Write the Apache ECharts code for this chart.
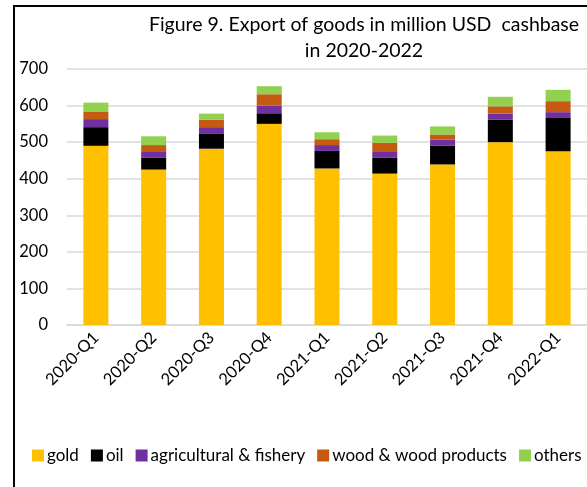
<!DOCTYPE html>
<html>
<head>
<meta charset="utf-8">
<script src="https://cdn.jsdelivr.net/npm/echarts@6/dist/echarts.min.js"></script>
<style>
  html, body { margin: 0; padding: 0; background: #fff; }
  #chart { width: 587px; height: 487px; }
</style>
</head>
<body>
<div id="chart"></div>
<script>
// Quarterly export of goods, million USD (cash basis)
const quarters = ['2020-Q1', '2020-Q2', '2020-Q3', '2020-Q4', '2021-Q1', '2021-Q2', '2021-Q3', '2021-Q4', '2022-Q1'];
const gold = [490, 425, 482, 550, 428, 414, 439, 500, 475];
const oil = [51, 32, 42, 29, 48, 43, 51, 62, 91];
const agricultural = [22, 16, 17, 21, 16, 16, 17, 16, 16];
const wood = [21, 19, 20, 31, 16, 25, 14, 20, 30];
const others = [24, 24, 17, 22, 19, 20, 22, 26, 31];
const yTicks = [0, 100, 200, 300, 400, 500, 600, 700];

const seriesDefs = [
  { name: 'gold', data: gold, color: '#FFC000' },
  { name: 'oil', data: oil, color: '#000000' },
  { name: 'agricultural & fishery', data: agricultural, color: '#7030A0' },
  { name: 'wood & wood products', data: wood, color: '#C55A11' },
  { name: 'others', data: others, color: '#92D050' }
];

const font = 'Lato, "Open Sans", sans-serif';
const chart = echarts.init(document.getElementById('chart'));

chart.setOption({
  animation: false,
  textStyle: { fontFamily: font },
  title: {
    text: 'Figure 9. Export of goods in million USD  cashbase\nin 2020-2022',
    left: 359,
    top: 7,
    textAlign: 'center',
    textStyle: { fontFamily: font, fontSize: 19.5, fontWeight: 'normal', color: '#000', lineHeight: 26 }
  },
  graphic: [{
    type: 'polyline',
    shape: { points: [[14, 487], [14, 6], [587, 6]] },
    style: { stroke: '#000', lineWidth: 2, fill: null }
  }],
  legend: {
    left: 27,
    top: 442,
    itemWidth: 12,
    itemHeight: 12,
    itemGap: 12,
    icon: 'rect',
    textStyle: { fontFamily: font, fontSize: 17, color: '#000', padding: [0, 0, 0, -2] },
    data: seriesDefs.map(s => s.name)
  },
  grid: { left: 67, right: -6, top: 69, bottom: 162, containLabel: false },
  xAxis: {
    type: 'category',
    data: quarters,
    axisTick: { show: false },
    axisLine: { lineStyle: { color: '#d9d9d9', width: 1.5 } },
    axisLabel: { rotate: 45, fontFamily: font, fontSize: 16.5, color: '#000', margin: 10, interval: 0 }
  },
  yAxis: {
    type: 'value',
    min: yTicks[0],
    max: yTicks[yTicks.length - 1],
    interval: 100,
    axisLine: { show: false },
    axisTick: { show: false },
    splitLine: { lineStyle: { color: '#d9d9d9', width: 1.5 } },
    axisLabel: { fontFamily: font, fontSize: 16.5, color: '#000', margin: 19 }
  },
  series: seriesDefs.map(s => ({
    name: s.name,
    type: 'bar',
    stack: 'total',
    barWidth: 25,
    data: s.data,
    itemStyle: { color: s.color }
  }))
});
</script>
</body>
</html>
